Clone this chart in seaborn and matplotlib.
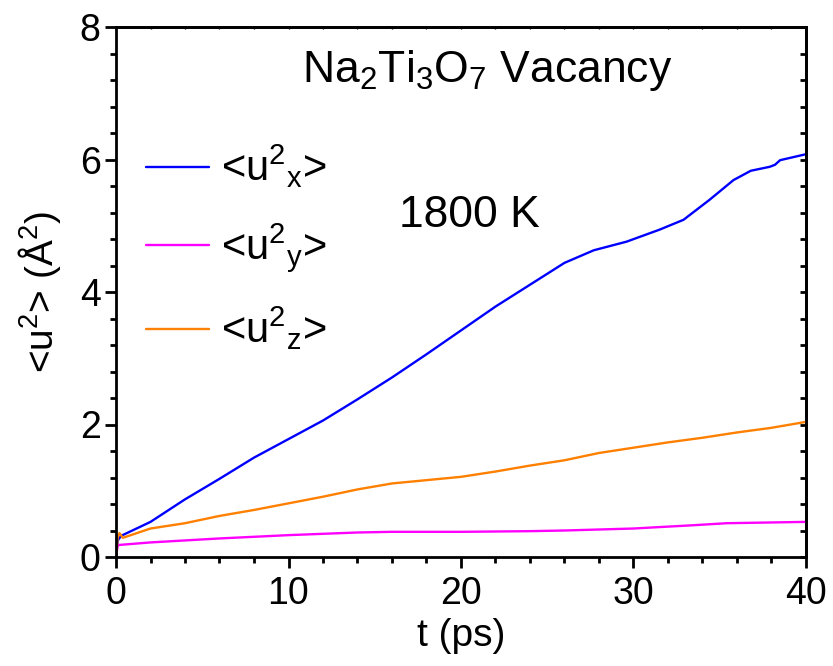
import numpy as np
import pandas as pd
import matplotlib
matplotlib.use("Agg")
import matplotlib.pyplot as plt
import seaborn as sns
from matplotlib.ticker import MultipleLocator

# ---- data ----
ux_t = [0, 0.1, 0.3, 2, 4, 6, 8, 10, 12, 14, 16, 18, 20, 22, 24, 26, 27.7, 29.6,
        31.5, 32.9, 34.4, 35.8, 36.8, 37.9, 38.2, 38.5, 40]
ux_v = [0, 0.25, 0.32, 0.53, 0.87, 1.18, 1.50, 1.78, 2.06, 2.38, 2.71, 3.06, 3.42,
        3.78, 4.11, 4.44, 4.63, 4.76, 4.94, 5.09, 5.39, 5.69, 5.83, 5.89, 5.92, 5.99, 6.08]

uy_t = [0, 0.1, 2, 6, 10, 14, 16, 20, 24, 26, 30, 33.5, 35.4, 40]
uy_v = [0, 0.18, 0.22, 0.28, 0.33, 0.37, 0.38, 0.38, 0.39, 0.40, 0.43, 0.48, 0.51, 0.53]

uz_t = [0, 0.1, 0.2, 0.4, 2, 4, 6, 8, 10, 12, 14, 16, 18, 20, 22, 24, 26, 28, 30,
        32, 34, 36, 38, 40]
uz_v = [0, 0.30, 0.36, 0.29, 0.43, 0.51, 0.62, 0.71, 0.81, 0.91, 1.02, 1.11, 1.16,
        1.21, 1.29, 1.38, 1.46, 1.57, 1.65, 1.73, 1.80, 1.88, 1.95, 2.04]

labels = [r'<u$^{2}{}_{x}$>', r'<u$^{2}{}_{y}$>', r'<u$^{2}{}_{z}$>']
colors = ['#0000FF', '#FF00FF', '#FF8000']

df = pd.concat([
    pd.DataFrame({'t': ux_t, 'v': ux_v, 'comp': labels[0]}),
    pd.DataFrame({'t': uy_t, 'v': uy_v, 'comp': labels[1]}),
    pd.DataFrame({'t': uz_t, 'v': uz_v, 'comp': labels[2]}),
])

sns.set_theme(style='ticks')
plt.rcParams['font.family'] = ['Liberation Sans', 'DejaVu Sans']
plt.rcParams['mathtext.fontset'] = 'custom'
plt.rcParams['mathtext.rm'] = 'Liberation Sans'
plt.rcParams['mathtext.it'] = 'Liberation Sans'
plt.rcParams['mathtext.bf'] = 'Liberation Sans:bold'
plt.rcParams['mathtext.sf'] = 'Liberation Sans'
for k in ['text.color', 'axes.labelcolor', 'xtick.color', 'ytick.color', 'axes.edgecolor']:
    plt.rcParams[k] = 'black'

W, H = 833, 666
fig = plt.figure(figsize=(W/100, H/100), dpi=100)
ax = fig.add_axes([116/W, 1-557/H, (806-116)/W, (557-27)/H])

sns.lineplot(data=df, x='t', y='v', hue='comp', palette=dict(zip(labels, colors)),
             estimator=None, sort=False, linewidth=1.7, ax=ax)

ax.set_xlim(0, 40)
ax.set_ylim(0, 8)
ax.xaxis.set_major_locator(MultipleLocator(10))
ax.xaxis.set_minor_locator(MultipleLocator(2))
ax.yaxis.set_major_locator(MultipleLocator(2))
ax.yaxis.set_minor_locator(MultipleLocator(0.4))

for s in ax.spines.values():
    s.set_linewidth(2.0)
    s.set_color('black')
ax.tick_params(which='major', direction='out', length=8, width=2.0, labelsize=27,
               colors='black', pad=3)
ax.tick_params(which='minor', direction='out', length=4.5, width=2.0)
ax.tick_params(axis='x', which='major', pad=6)

sec_y = ax.secondary_yaxis('right')
sec_y.yaxis.set_major_locator(MultipleLocator(0.4))
sec_y.tick_params(direction='in', length=4.5, width=2.0, labelright=False)
sec_y.spines['right'].set_linewidth(2.0)
sec_x = ax.secondary_xaxis('top')
sec_x.xaxis.set_major_locator(MultipleLocator(2))
sec_x.tick_params(direction='in', length=1.5, width=1.0, labeltop=False)
sec_x.spines['top'].set_linewidth(2.0)

ax.set_xlabel('t (ps)', fontsize=28, labelpad=4)
ax.set_ylabel(r'<u$^{2}$> (Å$^{2}$)', fontsize=28, labelpad=12)

ax.text(487/W, 1-82/H, r'Na$_{2}$Ti$_{3}$O$_{7}$ Vacancy', transform=fig.transFigure,
        fontsize=32, ha='center', va='baseline')
ax.text(469/W, 1-227/H, '1800 K', transform=fig.transFigure, fontsize=32,
        ha='center', va='baseline')

leg = ax.legend(loc='upper left', bbox_to_anchor=(0.02, 0.8125), frameon=False,
                fontsize=30, handlelength=1.5, handletextpad=0.3, labelspacing=0.74,
                borderaxespad=0)
for line in leg.get_lines():
    line.set_linewidth(1.7)

fig.savefig('out.png', dpi=100)
